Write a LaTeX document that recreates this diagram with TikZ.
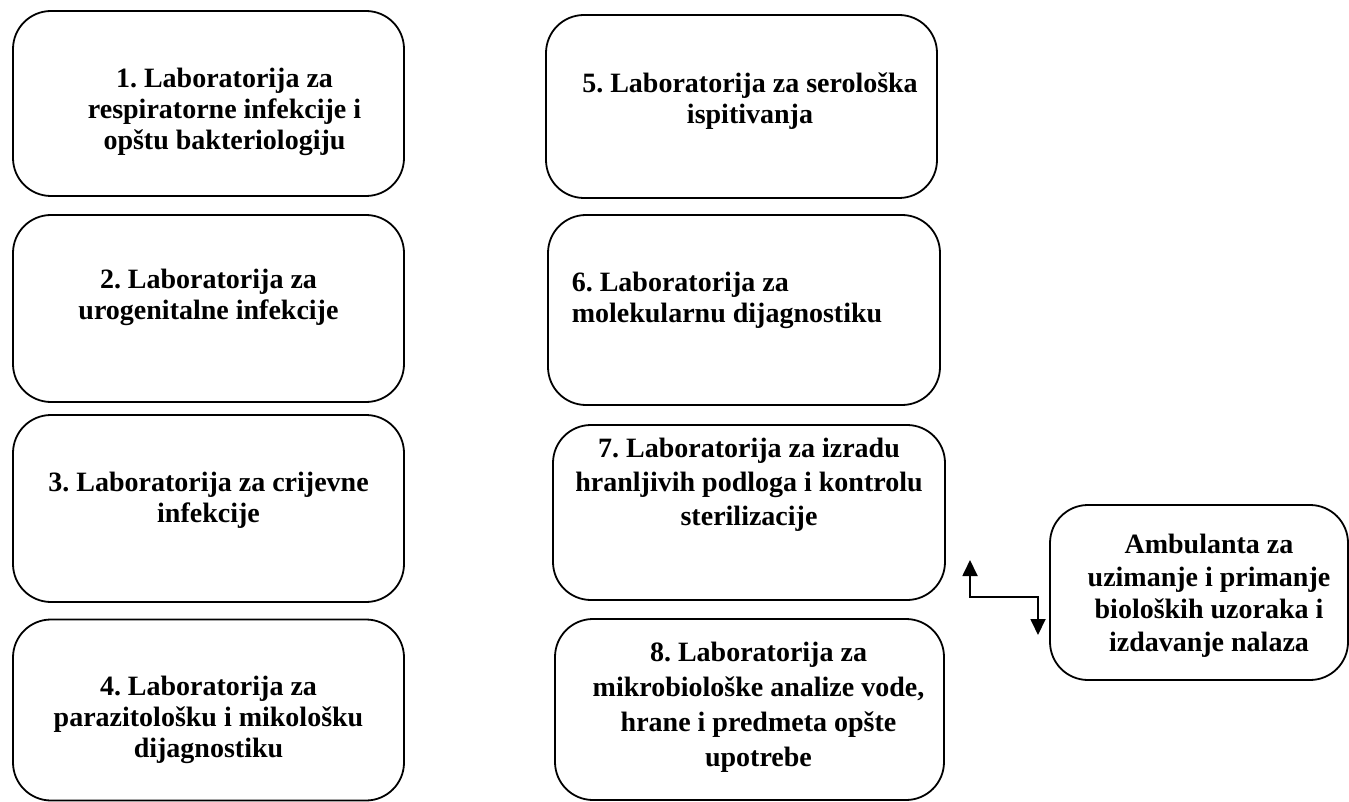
\documentclass[tikz,border=0pt]{standalone}
\usepackage{fontspec}
\setmainfont{Liberation Serif}
\frenchspacing
\usetikzlibrary{arrows.meta}
\tikzset{block/.style = {rectangle, draw, line width=1.8pt, rounded corners=38pt, inner sep=0pt},
	txt/.style      = {font=\bfseries\fontsize{28}{31}\selectfont, align=center, inner sep=0pt},
	link/.style     = {draw, line width=1.8pt, {Triangle[width=15pt,length=16pt]}-{Triangle[width=15pt,length=16pt]}}
}
\begin{document}
\begin{tikzpicture}[x=1pt, y=-1pt]
	\useasboundingbox (0,0) rectangle (1349,802);
	% left column
	\node [block, minimum width=391pt, minimum height=185pt] (b1) at (208.5,103.5) {};
	\node [block, minimum width=391pt, minimum height=187pt] (b2) at (208.5,308.5) {};
	\node [block, minimum width=391pt, minimum height=187pt] (b3) at (208.5,508.5) {};
	\node [block, minimum width=391pt, minimum height=181pt] (b4) at (208.5,710) {};
	\node [txt, xshift=16pt, yshift=-8pt] (t1) at (b1) {1. Laboratorija za\\respiratorne infekcije i\\opštu bakteriologiju};
	\node [txt, yshift=11pt] (t2) at (b2) {2. Laboratorija za\\urogenitalne infekcije};
	\node [txt, yshift=8pt] (t3) at (b3) {3. Laboratorija za crijevne\\infekcije};
	\node [txt, yshift=-10pt] (t4) at (b4) {4. Laboratorija za\\parazitološku i mikološku\\dijagnostiku};
	% right column
	\node [block, minimum width=391pt, minimum height=183pt] (b5) at (741.5,106.5) {};
	\node [block, minimum width=392pt, minimum height=190pt] (b6) at (744,310) {};
	\node [block, minimum width=392pt, minimum height=175pt] (b7) at (749,512.5) {};
	\node [block, minimum width=389pt, minimum height=181pt] (b8) at (749.5,709.5) {};
	\node [txt, xshift=8.5pt, yshift=5pt] (t5) at (b5) {5. Laboratorija za serološka\\ispitivanja};
	\node [txt, align=left, xshift=-17pt, yshift=10pt] (t6) at (b6) {6. Laboratorija za\\molekularnu dijagnostiku};
	\node [txt, yshift=27.5pt] (t7) at (b7) {7. Laboratorija za izradu\\[3pt]hranljivih podloga i kontrolu\\[3pt]sterilizacije};
	\node [txt, xshift=9pt, yshift=2.5pt] (t8) at (b8) {8. Laboratorija za\\[4pt]mikrobiološke analize vode,\\[4pt]hrane i predmeta opšte\\[4pt]upotrebe};
	% ambulanta
	\node [block, minimum width=298pt, minimum height=175pt] (amb) at (1199,592.5) {};
	\node [txt, xshift=10pt, yshift=-3.5pt] (tamb) at (amb) {Ambulanta za\\[1.5pt]uzimanje i primanje\\[1.5pt]bioloških uzoraka i\\[1.5pt]izdavanje nalaza};
	\coordinate (up) at (970,560);
	\coordinate (jn) at (1004,597);
	\coordinate (down) at (1038,635);
	\path [link] (up) |- (jn) -| (down);
\end{tikzpicture}
\end{document}
